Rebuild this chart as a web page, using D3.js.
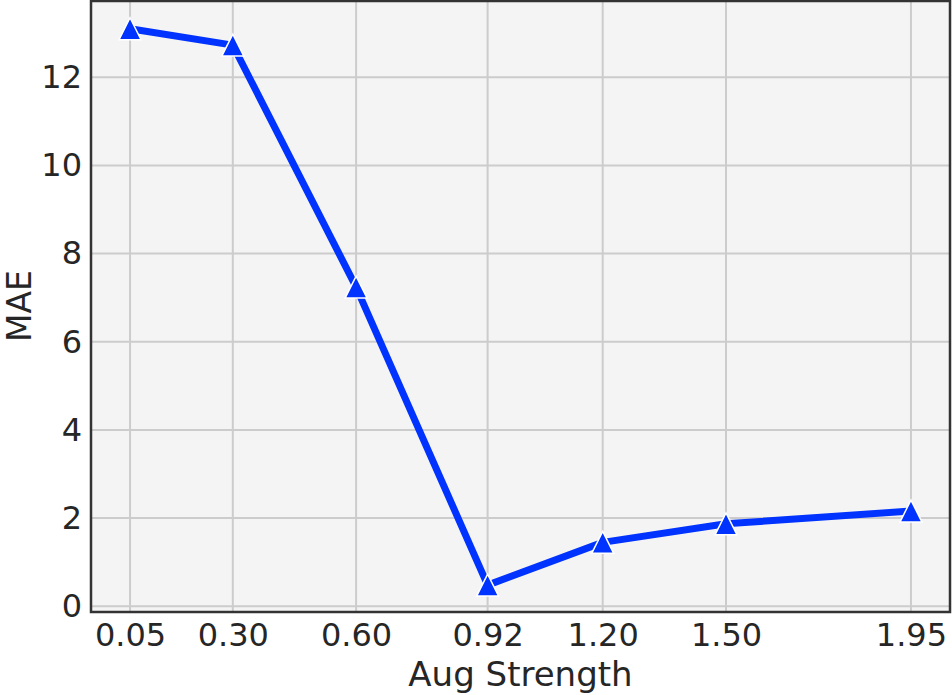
<!DOCTYPE html>
<html><head><meta charset="utf-8">
<script src="https://cdn.jsdelivr.net/npm/d3@7"></script>
<style>body{margin:0;background:#fff}svg{display:block}text{font-family:"DejaVu Sans",sans-serif;fill:#262626}</style>
</head><body><svg id="c" width="952" height="695"></svg>
<script>
const strengths = [0.05, 0.30, 0.60, 0.92, 1.20, 1.50, 1.95];
const xTickLabels = ["0.05", "0.30", "0.60", "0.92", "1.20", "1.50", "1.95"];
const mae = [13.10, 12.73, 7.24, 0.48, 1.45, 1.87, 2.16];
const yTicks = [0, 2, 4, 6, 8, 10, 12];

const svg = d3.select("#c");
const L = 91, R = 950, T = 1, B = 612;
const x = d3.scaleLinear().domain([-0.045, 2.045]).range([L, R]);
const y = d3.scaleLinear().domain([-0.13, 13.73]).range([B, T]);

svg.append("rect").attr("x", L).attr("y", T).attr("width", R - L).attr("height", B - T).attr("fill", "#f4f4f4");

const g = svg.append("g");
g.selectAll(".vg").data(strengths).join("line")
  .attr("x1", d => x(d)).attr("x2", d => x(d)).attr("y1", T).attr("y2", B)
  .attr("stroke", "#cccccc").attr("stroke-width", 2);
g.selectAll(".hg").data(yTicks).join("line")
  .attr("y1", d => y(d)).attr("y2", d => y(d)).attr("x1", L).attr("x2", R)
  .attr("stroke", "#cccccc").attr("stroke-width", 2);

const xAxis = d3.axisBottom(x).tickValues(strengths).tickFormat((d, i) => xTickLabels[i]).tickSize(0).tickPadding(11);
const xa = svg.append("g").attr("transform", `translate(0,${B})`).call(xAxis);
xa.select(".domain").remove();
xa.selectAll("text").attr("font-size", 32).attr("fill", "#262626").attr("font-family", "DejaVu Sans");

const yAxis = d3.axisLeft(y).tickValues(yTicks).tickSize(0).tickPadding(9);
const ya = svg.append("g").attr("transform", `translate(${L},0)`).call(yAxis);
ya.select(".domain").remove();
ya.selectAll("text").attr("font-size", 32).attr("fill", "#262626").attr("font-family", "DejaVu Sans");

const line = d3.line().x((d, i) => x(strengths[i])).y(d => y(d));
svg.append("path").datum(mae).attr("d", line).attr("fill", "none")
  .attr("stroke", "#0033ff").attr("stroke-width", 7).attr("stroke-linejoin", "round");

const tri = "M0,-11 L11,11 L-11,11 Z";
svg.selectAll(".m").data(mae).join("path")
  .attr("d", tri)
  .attr("transform", (d, i) => `translate(${x(strengths[i])},${y(d)})`)
  .attr("fill", "#0033ff").attr("stroke", "#fff").attr("stroke-width", 1.5);

svg.append("rect").attr("x", L).attr("y", T).attr("width", R - L).attr("height", B - T)
  .attr("fill", "none").attr("stroke", "#333").attr("stroke-width", 2.5);

svg.append("text").attr("x", (L + R) / 2).attr("y", 686).attr("text-anchor", "middle")
  .attr("font-size", 34).text("Aug Strength");
svg.append("text").attr("transform", `translate(31,306) rotate(-90)`).attr("text-anchor", "middle")
  .attr("font-size", 33).text("MAE");
</script></body></html>
